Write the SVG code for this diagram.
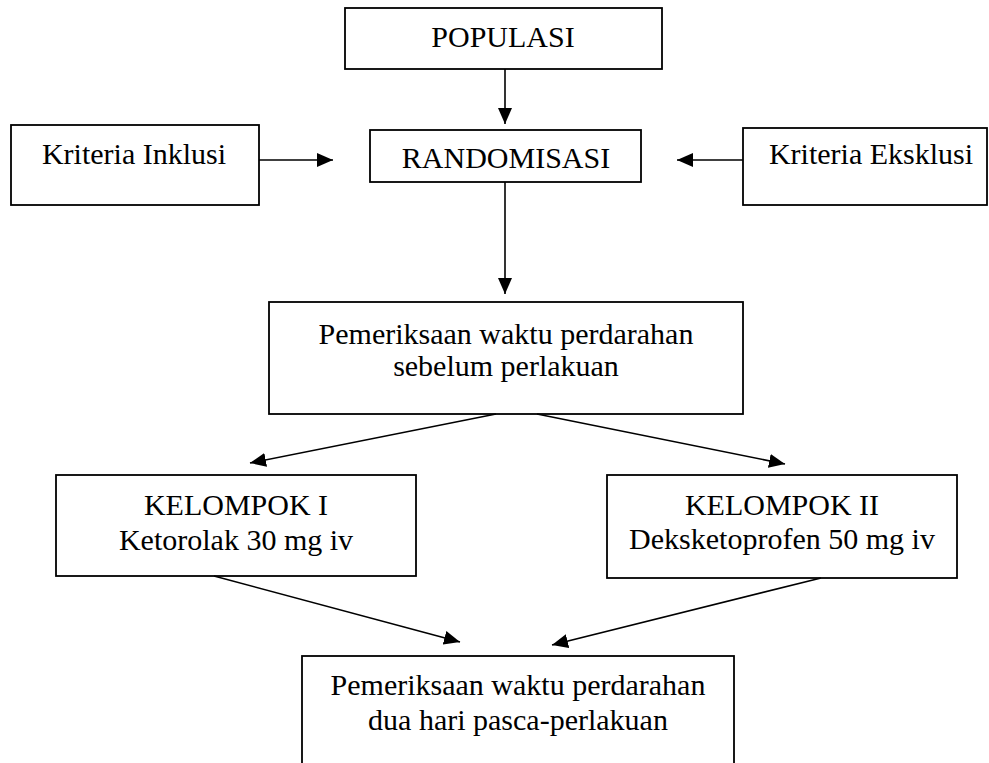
<svg xmlns="http://www.w3.org/2000/svg" width="989" height="763" viewBox="0 0 989 763">
<style>
.box{fill:#fff;stroke:#000;stroke-width:1.8}
.t{font-family:"Liberation Serif","Times New Roman",serif;font-size:30px;fill:#000;text-anchor:middle}
.c{stroke:#000;stroke-width:1.6;fill:none;marker-end:url(#ah)}
</style>
<defs>
<marker id="ah" markerUnits="userSpaceOnUse" markerWidth="17" markerHeight="15" refX="16" refY="7.5" orient="auto">
<path d="M0,0.5 L16,7.5 L0,14.5 Z" fill="#000"/>
</marker>
</defs>
<rect width="989" height="763" fill="#fff"/>
<g id="populasi"><rect class="box" x="345" y="8" width="317" height="61"/><text class="t" x="503" y="47">POPULASI</text></g>
<g id="inklusi"><rect class="box" x="11" y="125" width="248" height="80"/><text class="t" x="134" y="164">Kriteria Inklusi</text></g>
<g id="randomisasi"><rect class="box" x="370" y="130" width="271" height="52"/><text class="t" x="506" y="168">RANDOMISASI</text></g>
<g id="eksklusi"><rect class="box" x="743" y="128" width="244" height="77"/><text class="t" x="871" y="164">Kriteria Eksklusi</text></g>
<g id="pemeriksaan1"><rect class="box" x="269" y="302" width="474" height="112"/><text class="t" x="506" y="344">Pemeriksaan waktu perdarahan</text><text class="t" x="506" y="376">sebelum perlakuan</text></g>
<g id="kelompok1"><rect class="box" x="56" y="475" width="360" height="101"/><text class="t" x="236" y="515">KELOMPOK I</text><text class="t" x="236" y="550">Ketorolak 30 mg iv</text></g>
<g id="kelompok2"><rect class="box" x="607" y="475" width="350" height="103"/><text class="t" x="782" y="515">KELOMPOK II</text><text class="t" x="782" y="549">Deksketoprofen 50 mg iv</text></g>
<g id="pemeriksaan2"><rect class="box" x="302" y="656" width="432" height="112"/><text class="t" x="518" y="695">Pemeriksaan waktu perdarahan</text><text class="t" x="518" y="730">dua hari pasca-perlakuan</text></g>
<g id="connectors">
<line class="c" x1="505" y1="69" x2="505" y2="124"/>
<line class="c" x1="259" y1="160" x2="333" y2="160"/>
<line class="c" x1="743" y1="160" x2="677" y2="160"/>
<line class="c" x1="505" y1="182" x2="505" y2="294"/>
<line class="c" x1="496" y1="414" x2="250" y2="463"/>
<line class="c" x1="537" y1="414" x2="785" y2="464"/>
<line class="c" x1="214" y1="576" x2="460" y2="642"/>
<line class="c" x1="821" y1="578" x2="552" y2="645"/>
</g>
</svg>
